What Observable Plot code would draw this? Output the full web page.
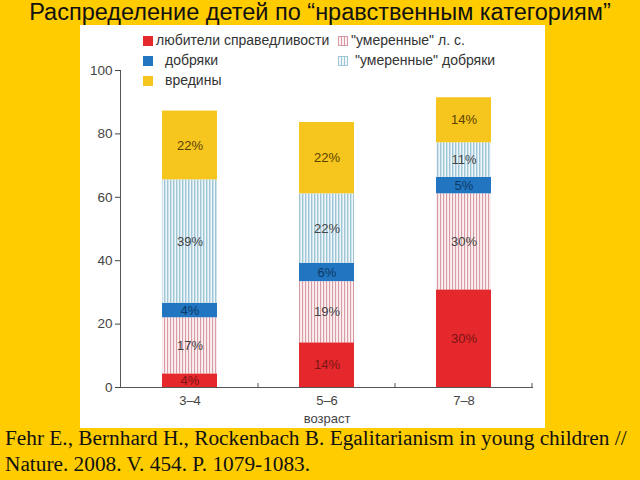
<!DOCTYPE html>
<html><head><meta charset="utf-8">
<script src="https://cdn.jsdelivr.net/npm/d3@7"></script>
<script src="https://cdn.jsdelivr.net/npm/@observablehq/plot@0.6"></script>
<style>
html,body{margin:0;padding:0;}
body{width:640px;height:480px;background:#FFCC00;position:relative;overflow:hidden;font-family:"Liberation Sans",Arial,sans-serif;}
#title{position:absolute;left:0;top:0;width:640px;text-align:center;font-size:23.5px;line-height:24px;color:#111;white-space:nowrap;}
#panel{position:absolute;left:80px;top:25px;width:465px;height:403px;background:#fff;}
#legend{position:absolute;left:0;top:0;font-size:14px;color:#333;}
.li{position:absolute;white-space:nowrap;}
.sw{display:inline-block;width:10px;height:10px;vertical-align:-1px;margin-right:3px;}
.cap{position:absolute;left:5px;font-family:"Liberation Serif","Times New Roman",serif;font-size:21.3px;line-height:22px;color:#111;white-space:nowrap;}
</style></head>
<body>
<div id="title">Распределение детей по “нравственным категориям”</div>
<div id="panel"><div id="chart"></div><div id="legend"></div></div>
<div class="cap" style="top:427px">Fehr E., Bernhard H., Rockenbach B. Egalitarianism in young children //</div>
<div class="cap" style="top:453px">Nature. 2008. V. 454. P. 1079-1083.</div>
<script>
const ages = ["3–4", "5–6", "7–8"];
const categories = ["любители справедливости", "\"умеренные\" л. с.", "добряки", "\"умеренные\" добряки", "вредины"];
// bar segment heights (bottom to top), per age group
const fair    = [4.3, 14.1, 30.8];
const modFair = [17.7, 19.3, 30.3];
const kind    = [4.6, 5.8, 5.2];
const modKind = [38.9, 21.9, 10.9];
const spite   = [21.7, 22.5, 14.2];
// printed labels
const fairLbl    = ["4%", "14%", "30%"];
const modFairLbl = ["17%", "19%", "30%"];
const kindLbl    = ["4%", "6%", "5%"];
const modKindLbl = ["39%", "22%", "11%"];
const spiteLbl   = ["22%", "22%", "14%"];
const yTicks = [0, 20, 40, 60, 80, 100];

const fills = ["#E5282C", "url(#hatchPink)", "#2275C0", "url(#hatchBlue)", "#F6C51E"];
const textColors = ["#7a1515", "#444", "#0d3a66", "#444", "#5a4200"];
const series = [fair, modFair, kind, modKind, spite];
const labels = [fairLbl, modFairLbl, kindLbl, modKindLbl, spiteLbl];

const data = [];
categories.forEach((c, i) => ages.forEach((a, j) => data.push({age: a, cat: c, value: series[i][j], label: labels[i][j]})));

const plot = Plot.plot({
  width: 465, height: 403,
  marginLeft: 40, marginRight: 12, marginTop: 45, marginBottom: 41,
  style: {fontFamily: "'Liberation Sans', Arial, sans-serif", fontSize: "12.5px", color: "#444", background: "transparent"},
  x: {domain: ages, paddingInner: 0.6, paddingOuter: 0.3, label: "возраст", labelAnchor: "center", labelOffset: 35},
  y: {domain: [0, 100], ticks: yTicks, label: null},
  color: {domain: categories, range: fills},
  marks: [
    Plot.barY(data, Plot.stackY({x: "age", y: "value", z: "cat", fill: "cat", order: categories})),
    Plot.text(data, Plot.stackY({x: "age", y: "value", z: "cat", text: "label", order: categories,
      fill: d => textColors[categories.indexOf(d.cat)], fontSize: 13})),
    Plot.axisY({ticks: yTicks, tickSize: 5, tickPadding: 3, fontSize: 13.5, label: null}),
    Plot.axisX({tickSize: 0, tickPadding: 8, fontSize: 13, label: "возраст", labelAnchor: "center", labelOffset: 35}),
    Plot.frame({anchor: "left", stroke: "#555"}),
    Plot.ruleY([0], {stroke: "#555"})
  ]
});
document.getElementById("chart").appendChild(plot);

// hatch patterns
const svg = d3.select(plot);
const defs = svg.insert("defs", ":first-child");
const p1 = defs.append("pattern").attr("id", "hatchPink").attr("patternUnits", "userSpaceOnUse").attr("width", 3).attr("height", 10);
p1.append("rect").attr("width", 3).attr("height", 10).attr("fill", "#fbf0f1");
p1.append("rect").attr("width", 1.1).attr("height", 10).attr("fill", "#d99aa3");
const p2 = defs.append("pattern").attr("id", "hatchBlue").attr("patternUnits", "userSpaceOnUse").attr("width", 3).attr("height", 10);
p2.append("rect").attr("width", 3).attr("height", 10).attr("fill", "#eef6f9");
p2.append("rect").attr("width", 1.4).attr("height", 10).attr("fill", "#9fc6d6");

// small ticks at band boundaries (from the library's x scale)
const xs = plot.scale("x"), ys = plot.scale("y");
const y0 = ys.apply(0);
ages.forEach(a => {
  const right = xs.apply(a) + xs.bandwidth + (xs.step - xs.bandwidth) / 2;
  svg.append("line").attr("x1", right).attr("x2", right).attr("y1", y0).attr("y2", y0 - 4).attr("stroke", "#555");
});

// legend
const legendPos = [[63, 7], [258, 7], [63, 27], [258, 27], [63, 47]];
const legendIndent = [0, 0, 9, 4, 9];
const lg = document.getElementById("legend");
categories.forEach((c, i) => {
  const d = document.createElement("div");
  d.className = "li";
  d.style.left = legendPos[i][0] + "px";
  d.style.top = legendPos[i][1] + "px";
  const sw = document.createElement("span");
  sw.className = "sw";
  const f = fills[i];
  if (f.startsWith("url")) {
    sw.style.background = i === 1
      ? "repeating-linear-gradient(90deg,#d99aa3 0 1px,#fbf0f1 1px 3px)"
      : "repeating-linear-gradient(90deg,#9fc6d6 0 1px,#eef6f9 1px 3px)";
    sw.style.outline = "1px solid " + (i === 1 ? "#d99aa3" : "#9fc6d6");
    sw.style.outlineOffset = "-1px";
  } else sw.style.background = f;
  sw.style.marginRight = (3 + legendIndent[i]) + "px";
  d.appendChild(sw);
  d.appendChild(document.createTextNode(c));
  lg.appendChild(d);
});
</script>
</body></html>
